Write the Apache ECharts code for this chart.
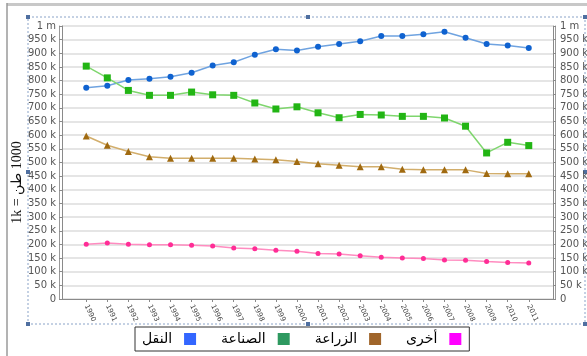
<!DOCTYPE html>
<html>
<head>
<meta charset="utf-8">
<script src="https://cdn.jsdelivr.net/npm/echarts@6/dist/echarts.min.js"></script>
<style>
  html, body { margin: 0; padding: 0; background: #fff; }
  #chart { width: 587px; height: 356px; }
</style>
</head>
<body>
<div id="chart"></div>
<script>
// years on the x axis
const years = [1990, 1991, 1992, 1993, 1994, 1995, 1996, 1997, 1998, 1999, 2000,
               2001, 2002, 2003, 2004, 2005, 2006, 2007, 2008, 2009, 2010, 2011];

// values in tonnes (1k = 1000)
const transport   = [774000, 781000, 802000, 807000, 814000, 829000, 855000, 867000, 895000, 915000, 910000,
                     924000, 934000, 944000, 963000, 963000, 970000, 979000, 957000, 934000, 929000, 919000];
const industry    = [853000, 810000, 764000, 746000, 746000, 758000, 748000, 746000, 718000, 696000, 704000,
                     682000, 664000, 676000, 674000, 669000, 669000, 663000, 633000, 535000, 574000, 562000];
const agriculture = [597000, 563000, 540000, 521000, 516000, 516000, 516000, 516000, 513000, 510000, 504000,
                     495000, 490000, 484000, 484000, 475000, 473000, 473000, 473000, 460000, 459000, 459000];
const other       = [201000, 205000, 201000, 199000, 199000, 197000, 194000, 187000, 184000, 179000, 175000,
                     167000, 165000, 158000, 153000, 150000, 148000, 143000, 142000, 137000, 134000, 132000];

const seriesNames = ["النقل", "الصناعة", "الزراعة", "أخرى"];
const legendColors = ["#3366ff", "#2e9960", "#a0652a", "#ff00ff"];

const chart = echarts.init(document.getElementById("chart"));

const yFmt = v => v === 0 ? "0" : (v >= 1000000 ? "1 m" : (v / 1000) + " k");

const yAxisBase = {
  type: "value", min: 0, max: 1000000, interval: 50000,
  axisLine: { show: true, lineStyle: { color: "#8a8a8a", width: 1 } },
  axisTick: { show: true, length: 3, lineStyle: { color: "#8a8a8a" } },
  axisLabel: { formatter: yFmt, color: "#555", fontSize: 10, fontFamily: "DejaVu Sans", margin: 6 },
};

const pairs = arr => years.map((y, i) => [y, arr[i]]);

function lineSeries(name, data, lineColor, markColor, symbol, size) {
  return {
    name, type: "line", data: pairs(data),
    symbol, symbolSize: size,
    lineStyle: { color: lineColor, width: 1.5 },
    itemStyle: { color: markColor },
    emphasis: { disabled: true },
    animation: false,
  };
}

// dotted selection frame handles
const handles = [[28, 17], [308, 17], [585, 17], [28, 172], [585, 172], [28, 324], [308, 324], [585, 324]];

const option = {
  animation: false,
  grid: { left: 62, right: 34, top: 26, bottom: 57, outerBoundsMode: "none" },
  xAxis: {
    type: "value", min: 1988.85, max: 2012.15,
    splitLine: { show: false },
    axisLine: { show: true, onZero: false, lineStyle: { color: "#8a8a8a" } },
    axisTick: { show: true, length: 3, customValues: years, lineStyle: { color: "#8a8a8a" } },
    axisLabel: {
      customValues: years, formatter: v => String(v), rotate: -65,
      fontSize: 7, color: "#444", fontFamily: "DejaVu Sans", margin: 6,
    },
  },
  yAxis: [
    Object.assign({}, yAxisBase, {
      position: "left",
      axisLine: { show: true, lineStyle: { color: "#8a8a8a", width: 1, shadowColor: "#9a9a9a", shadowOffsetX: -3 } },
      splitLine: { show: true, lineStyle: { color: "#dcdcdc", width: 1.5 } },
      name: "1k = طن\u200E 1000",
      nameLocation: "middle", nameRotate: 90, nameGap: 38, nameMoveOverlap: false,
      nameTextStyle: { fontFamily: "Liberation Serif", fontSize: 14, color: "#111", padding: [0, 40, 0, 0] },
    }),
    Object.assign({}, yAxisBase, {
      position: "right",
      axisLine: { show: true, lineStyle: { color: "#8a8a8a", width: 1, shadowColor: "#9a9a9a", shadowOffsetX: 2 } },
      splitLine: { show: false },
      axisLabel: Object.assign({}, yAxisBase.axisLabel, { margin: 7 }),
    }),
  ],
  legend: {
    data: seriesNames.map((n, i) => ({ name: n, icon: "rect", itemStyle: { color: legendColors[i] } })),
    left: 135, top: 327,
    align: "right",
    itemWidth: 12, itemHeight: 12, itemGap: 25,
    padding: [5, 8, 5, 7],
    borderColor: "#333", borderWidth: 1,
    textStyle: { fontFamily: "DejaVu Sans", fontSize: 14, color: "#000", padding: [0, 7, 0, 0] },
    selectedMode: false,
  },
  series: [
    lineSeries(seriesNames[0], transport, "#6fa3e0", "#0f62d0", "circle", 6),
    lineSeries(seriesNames[1], industry, "#7fd66e", "#22b514", "rect", 7),
    lineSeries(seriesNames[2], agriculture, "#d2ae6c", "#a06a10", "triangle", 7),
    lineSeries(seriesNames[3], other, "#ff8cc0", "#ff2d96", "circle", 5),
  ],
  graphic: [
    // outer window frame
    { type: "line", shape: { x1: 7, y1: 4.5, x2: 587, y2: 4.5 }, style: { stroke: "#c8c8c8", lineWidth: 3 }, silent: true },
    { type: "line", shape: { x1: 7, y1: 3, x2: 7, y2: 356 }, style: { stroke: "#9a9a9a", lineWidth: 1.5 }, silent: true },
    // dotted selection rectangle
    { type: "rect", shape: { x: 28, y: 17, width: 557, height: 307 },
      style: { fill: null, stroke: "#8aa3c8", lineWidth: 1, lineDash: [2, 2] }, silent: true },
  ].concat(handles.map(h => ({
    type: "rect", shape: { x: h[0] - 2, y: h[1] - 2, width: 4, height: 4 },
    style: { fill: "#4f6fa0" }, silent: true,
  }))),
};

chart.setOption(option);
window.addEventListener("resize", () => chart.resize());
</script>
</body>
</html>
